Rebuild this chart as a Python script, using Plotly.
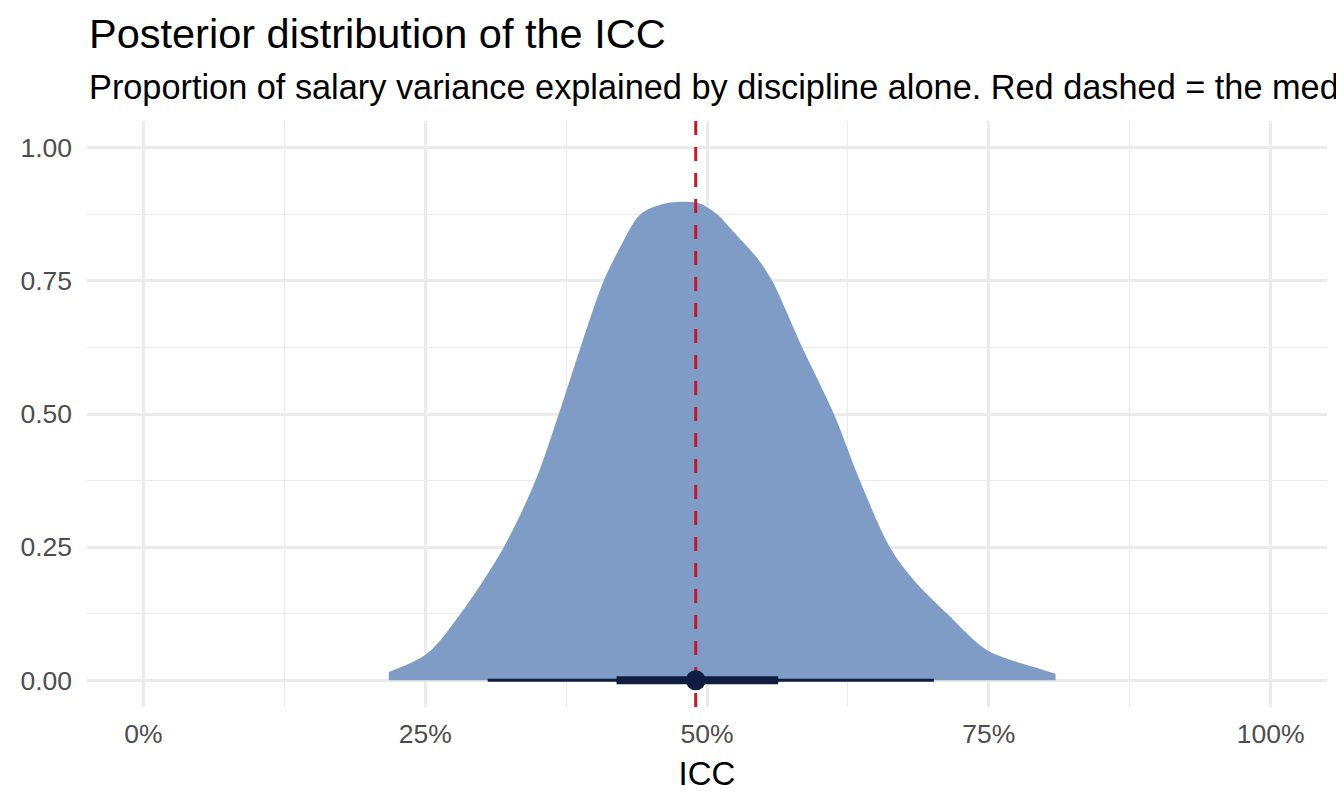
import plotly.graph_objects as go

# ---- data ----
icc_x = [0.2177, 0.2517, 0.2813, 0.3197, 0.3478, 0.3685, 0.3878, 0.4084, 0.4233,
         0.4410, 0.4617, 0.4824, 0.4942, 0.5090, 0.5179, 0.5327, 0.5445,
         0.5578, 0.5845, 0.6126, 0.6356, 0.6622, 0.6835, 0.7131,
         0.7486, 0.7900, 0.8092]
density = [0.0156, 0.0502, 0.1250, 0.2500, 0.3750, 0.5000, 0.6250, 0.7500, 0.8145,
           0.8750, 0.8947, 0.8985, 0.8947, 0.8750, 0.8553, 0.8209, 0.7927,
           0.7500, 0.6250, 0.5000, 0.3750, 0.2500, 0.1880, 0.1250,
           0.0564, 0.0250, 0.0126]
interval_95 = [0.3055, 0.7013]
interval_66 = [0.4197, 0.5632]
median_icc = 0.49

x_ticks = [0, 0.25, 0.5, 0.75, 1.0]
x_labels = ["0%", "25%", "50%", "75%", "100%"]
y_ticks = [0, 0.25, 0.5, 0.75, 1.0]
y_labels = ["0.00", "0.25", "0.50", "0.75", "1.00"]
minor_ticks = [0.125, 0.375, 0.625, 0.875]

title_text = "Posterior distribution of the ICC"
subtitle_text = ("Proportion of salary variance explained by discipline alone. "
                 "Red dashed = the median ICC.")

FONT = "Liberation Sans, Arial, Helvetica, sans-serif"
FILL = "#7F9CC6"
NAVY = "#0F1D40"
RED = "#CC1625"
GRID = "#EBEBEB"

fig = go.Figure()

# density (half-eye slab)
fig.add_trace(go.Scatter(x=icc_x, y=density, fill="tozeroy", fillcolor=FILL,
                         mode="lines", line=dict(width=0, color=FILL, shape="spline", smoothing=0.9),
                         hoverinfo="skip", showlegend=False))

# median line
fig.add_trace(go.Scatter(x=[median_icc, median_icc], y=[-0.05, 1.05], mode="lines",
                         line=dict(color=RED, width=3, dash="14px,12px"),
                         showlegend=False, hoverinfo="skip"))

# intervals
fig.add_trace(go.Scatter(x=interval_95, y=[0, 0], mode="lines",
                         line=dict(color=NAVY, width=3), showlegend=False))
fig.add_trace(go.Scatter(x=interval_66, y=[0, 0], mode="lines",
                         line=dict(color=NAVY, width=8), showlegend=False))
fig.add_trace(go.Scatter(x=[median_icc], y=[0], mode="markers",
                         marker=dict(color=NAVY, size=20), showlegend=False))

# page has an 8px body margin; positions below are in figure coordinates
plot_top, plot_bot = 113, 699
ph = plot_bot - plot_top


def py(p):
    return (plot_bot - p) / ph


fig.update_layout(
    width=1344, height=806,
    margin=dict(l=79, r=25, t=plot_top, b=806 - plot_bot),
    paper_bgcolor="white", plot_bgcolor="white",
    font=dict(family=FONT, color="black"),
    annotations=[
        dict(text=title_text, xref="paper", yref="paper", x=0, y=py(26),
             xanchor="left", yanchor="middle", showarrow=False,
             font=dict(size=41.5, color="black", family=FONT)),
        dict(text=subtitle_text, xref="paper", yref="paper", x=0, y=py(79),
             xanchor="left", yanchor="middle", showarrow=False,
             font=dict(size=34.3, color="black", family=FONT)),
    ],
    xaxis=dict(range=[-0.05, 1.05], tickvals=x_ticks, ticktext=x_labels,
               showgrid=True, gridcolor=GRID, gridwidth=2.6, zeroline=False,
               showline=False, ticks="", ticklabelstandoff=8,
               tickfont=dict(size=26.5, color="#4D4D4D"),
               minor=dict(tickvals=minor_ticks, showgrid=True,
                          gridcolor=GRID, gridwidth=1.3),
               title=dict(text="ICC", font=dict(size=33, color="black"), standoff=14)),
    yaxis=dict(range=[-0.05, 1.05], tickvals=y_ticks, ticktext=y_labels,
               showgrid=True, gridcolor=GRID, gridwidth=2.6, zeroline=False,
               showline=False, ticks="", ticklabelstandoff=14,
               tickfont=dict(size=26.5, color="#4D4D4D"),
               minor=dict(tickvals=minor_ticks, showgrid=True,
                          gridcolor=GRID, gridwidth=1.3)),
)

fig.write_html("out.html")
